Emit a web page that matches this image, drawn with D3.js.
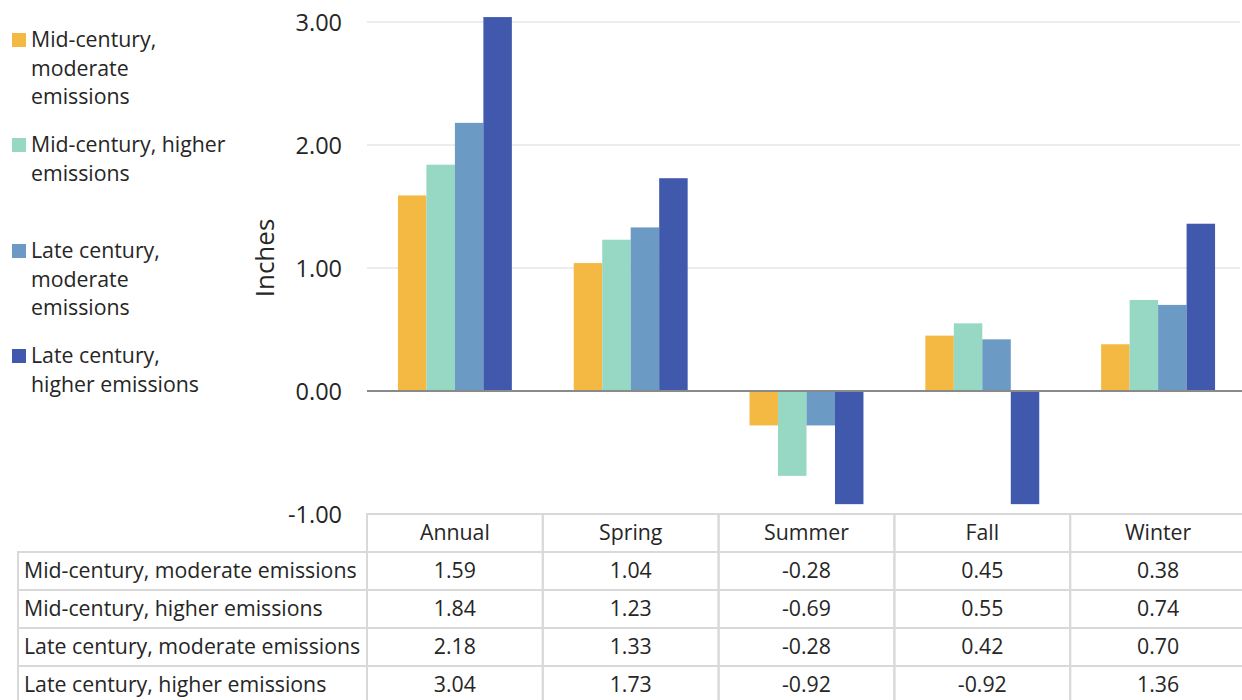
<!DOCTYPE html>
<html><head><meta charset="utf-8">
<script src="https://cdn.jsdelivr.net/npm/d3@7"></script>
<style>
body{margin:0;background:#fff;}
svg{display:block;font-family:"Open Sans",sans-serif;}
</style></head><body>
<svg id="c" width="1242" height="700"></svg>
<script>
const categories = ["Annual","Spring","Summer","Fall","Winter"];
const seriesNames = ["Mid-century, moderate emissions","Mid-century, higher emissions","Late century, moderate emissions","Late century, higher emissions"];
const legendLines = [["Mid-century,","moderate","emissions"],["Mid-century, higher","emissions"],["Late century,","moderate","emissions"],["Late century,","higher emissions"]];
const midModerate = [1.59,1.04,-0.28,0.45,0.38];
const midHigher = [1.84,1.23,-0.69,0.55,0.74];
const lateModerate = [2.18,1.33,-0.28,0.42,0.70];
const lateHigher = [3.04,1.73,-0.92,-0.92,1.36];
const yTicks = [-1,0,1,2,3];
const colors = ["#F4B942","#97D8C4","#6B9AC4","#4059AD"];
const series = [midModerate, midHigher, lateModerate, lateHigher];

const fmt = d3.formatLocale({decimal:".",thousands:",",grouping:[3],currency:["$",""],minus:"-"}).format(".2f");
const svg = d3.select("#c");
const x0 = 367, x1 = 1246, yTop = 22, yBot = 514;
const x = d3.scaleBand().domain(categories).range([x0,x1]).paddingInner(0.352).paddingOuter(0.176);
const xCell = d3.scaleBand().domain(categories).range([x0,x1]);
const xs = d3.scaleBand().domain(d3.range(4)).range([0,x.bandwidth()]);
const y = d3.scaleLinear().domain([-1,3]).range([yBot,yTop]);
const txt = "#262626";

// gridlines
svg.append("g").selectAll("line").data(yTicks.filter(d=>d!==0)).join("line")
  .attr("x1",x0).attr("x2",1240).attr("y1",d=>y(d)).attr("y2",d=>y(d))
  .attr("stroke","#d9d9d9").attr("stroke-width",1.2);

// y tick labels
const yAxis = d3.axisLeft(y).tickValues(yTicks).tickFormat(fmt).tickSize(0).tickPadding(0);
const ag = svg.append("g").attr("transform",`translate(342,0)`).call(yAxis);
ag.select(".domain").remove();
ag.selectAll("text").attr("font-size",23.5).attr("fill",txt).attr("font-family","'Open Sans',sans-serif").attr("dy","0.36em");

// Y title
svg.append("text").attr("transform","translate(274,258) rotate(-90)").attr("text-anchor","middle")
  .attr("font-size",26).attr("fill",txt).text("Inches");

// bars
const g = svg.append("g");
categories.forEach((c,i)=>{
  series.forEach((s,j)=>{
    const v = s[i];
    g.append("rect").attr("x",x(c)+xs(j)).attr("width",xs.bandwidth())
      .attr("y",y(Math.max(0,v))).attr("height",Math.abs(y(v)-y(0)))
      .attr("fill",colors[j]);
  });
});

// zero line
svg.append("line").attr("x1",x0).attr("x2",1242).attr("y1",y(0)).attr("y2",y(0))
  .attr("stroke","#8a8a8a").attr("stroke-width",2);

// legend
const legY = [40,145,251,356];
const lg = svg.append("g");
legendLines.forEach((lines,i)=>{
  lg.append("rect").attr("x",12).attr("y",legY[i]-7).attr("width",14).attr("height",14).attr("fill",colors[i]);
  lines.forEach((t,k)=>{
    lg.append("text").attr("x",31).attr("y",legY[i]+k*28.5).attr("dy","0.35em")
      .attr("font-size",21.3).attr("fill",txt).text(t);
  });
});

// table
const rowH = 38, headTop = 514;
const tg = svg.append("g");
const bc = "#d9d9d9";
const fs = 21.3;
categories.forEach(c=>{
  tg.append("rect").attr("x",xCell(c)).attr("y",headTop).attr("width",xCell.bandwidth()).attr("height",rowH)
    .attr("fill","none").attr("stroke",bc).attr("stroke-width",2);
  tg.append("text").attr("x",xCell(c)+xCell.bandwidth()/2).attr("y",headTop+rowH/2).attr("dy","0.35em")
    .attr("text-anchor","middle").attr("font-size",fs).attr("fill",txt).text(c);
});
series.forEach((s,j)=>{
  const ty = headTop+rowH*(j+1);
  tg.append("rect").attr("x",18).attr("y",ty).attr("width",x0-18).attr("height",rowH)
    .attr("fill","none").attr("stroke",bc).attr("stroke-width",2);
  tg.append("text").attr("x",24).attr("y",ty+rowH/2).attr("dy","0.35em")
    .attr("font-size",fs).attr("fill",txt).text(seriesNames[j]);
  categories.forEach((c,i)=>{
    tg.append("rect").attr("x",xCell(c)).attr("y",ty).attr("width",xCell.bandwidth()).attr("height",rowH)
      .attr("fill","none").attr("stroke",bc).attr("stroke-width",2);
    tg.append("text").attr("x",xCell(c)+xCell.bandwidth()/2).attr("y",ty+rowH/2).attr("dy","0.35em")
      .attr("text-anchor","middle").attr("font-size",fs).attr("fill",txt).text(fmt(s[i]));
  });
});
</script></body></html>
